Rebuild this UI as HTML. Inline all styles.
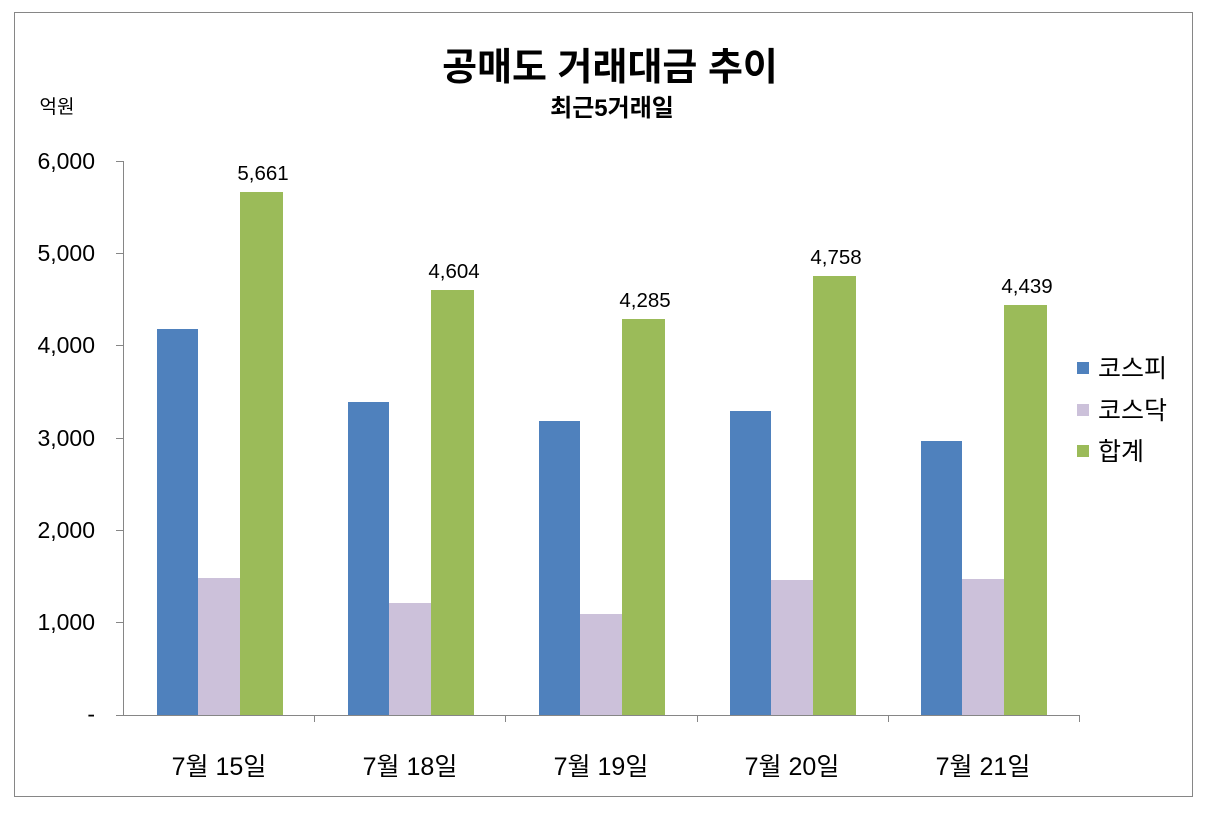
<!DOCTYPE html>
<html><head><meta charset="utf-8"><style>
body{margin:0;background:#fff;}
svg text{font-family:"Liberation Sans","Noto Sans CJK KR","NanumGothic",sans-serif;fill:#000;}
</style></head><body>
<svg width="1217" height="815" xmlns="http://www.w3.org/2000/svg">
<rect x="0" y="0" width="1217" height="815" fill="#fff"/>
<rect x="14.5" y="12.5" width="1178" height="784" fill="none" stroke="#868686" stroke-width="1"/>
<text x="610" y="80" font-size="38" font-weight="bold" text-anchor="middle">공매도 거래대금 추이</text>
<text x="612" y="116" font-size="24" font-weight="bold" text-anchor="middle">최근5거래일</text>
<text x="57" y="113" font-size="19" text-anchor="middle">억원</text>
<g stroke="#868686" stroke-width="1">
<line x1="123.5" y1="161" x2="123.5" y2="715"/>
<line x1="116" y1="161.5" x2="123" y2="161.5"/>
<line x1="116" y1="253.5" x2="123" y2="253.5"/>
<line x1="116" y1="345.5" x2="123" y2="345.5"/>
<line x1="116" y1="438.5" x2="123" y2="438.5"/>
<line x1="116" y1="530.5" x2="123" y2="530.5"/>
<line x1="116" y1="622.5" x2="123" y2="622.5"/>
<line x1="116" y1="715.5" x2="1079" y2="715.5"/>
<line x1="314.5" y1="715" x2="314.5" y2="722"/>
<line x1="505.5" y1="715" x2="505.5" y2="722"/>
<line x1="697.5" y1="715" x2="697.5" y2="722"/>
<line x1="888.5" y1="715" x2="888.5" y2="722"/>
<line x1="1079.5" y1="715" x2="1079.5" y2="722"/>
</g>
<g font-size="23" text-anchor="end">
<text x="95" y="169">6,000</text>
<text x="95" y="261">5,000</text>
<text x="95" y="353">4,000</text>
<text x="95" y="446">3,000</text>
<text x="95" y="538">2,000</text>
<text x="95" y="630">1,000</text>
<text x="95" y="722">-</text>
</g>
<g>
<rect x="157" y="329" width="41" height="386" fill="#4F81BD"/>
<rect x="198" y="578" width="42" height="137" fill="#CCC1DA"/>
<rect x="240" y="192" width="43" height="523" fill="#9BBB59"/>
<rect x="348" y="402" width="41" height="313" fill="#4F81BD"/>
<rect x="389" y="603" width="42" height="112" fill="#CCC1DA"/>
<rect x="431" y="290" width="43" height="425" fill="#9BBB59"/>
<rect x="539" y="421" width="41" height="294" fill="#4F81BD"/>
<rect x="580" y="614" width="42" height="101" fill="#CCC1DA"/>
<rect x="622" y="319" width="43" height="396" fill="#9BBB59"/>
<rect x="730" y="411" width="41" height="304" fill="#4F81BD"/>
<rect x="771" y="580" width="42" height="135" fill="#CCC1DA"/>
<rect x="813" y="276" width="43" height="439" fill="#9BBB59"/>
<rect x="921" y="441" width="41" height="274" fill="#4F81BD"/>
<rect x="962" y="579" width="42" height="136" fill="#CCC1DA"/>
<rect x="1004" y="305" width="43" height="410" fill="#9BBB59"/>
</g>
<g font-size="20.5" text-anchor="middle">
<text x="263" y="180">5,661</text>
<text x="454" y="278">4,604</text>
<text x="645" y="307">4,285</text>
<text x="836" y="264">4,758</text>
<text x="1027" y="293">4,439</text>
</g>
<g font-size="25" text-anchor="middle">
<text x="219" y="775">7월 15일</text>
<text x="410" y="775">7월 18일</text>
<text x="601" y="775">7월 19일</text>
<text x="792" y="775">7월 20일</text>
<text x="983" y="775">7월 21일</text>
</g>
<rect x="1077" y="362" width="12" height="12" fill="#4F81BD"/>
<rect x="1077" y="404" width="12" height="12" fill="#CCC1DA"/>
<rect x="1077" y="445" width="12" height="12" fill="#9BBB59"/>
<g font-size="25">
<text x="1098" y="377">코스피</text>
<text x="1098" y="419">코스닥</text>
<text x="1098" y="460">합계</text>
</g>
</svg>
</body></html>
